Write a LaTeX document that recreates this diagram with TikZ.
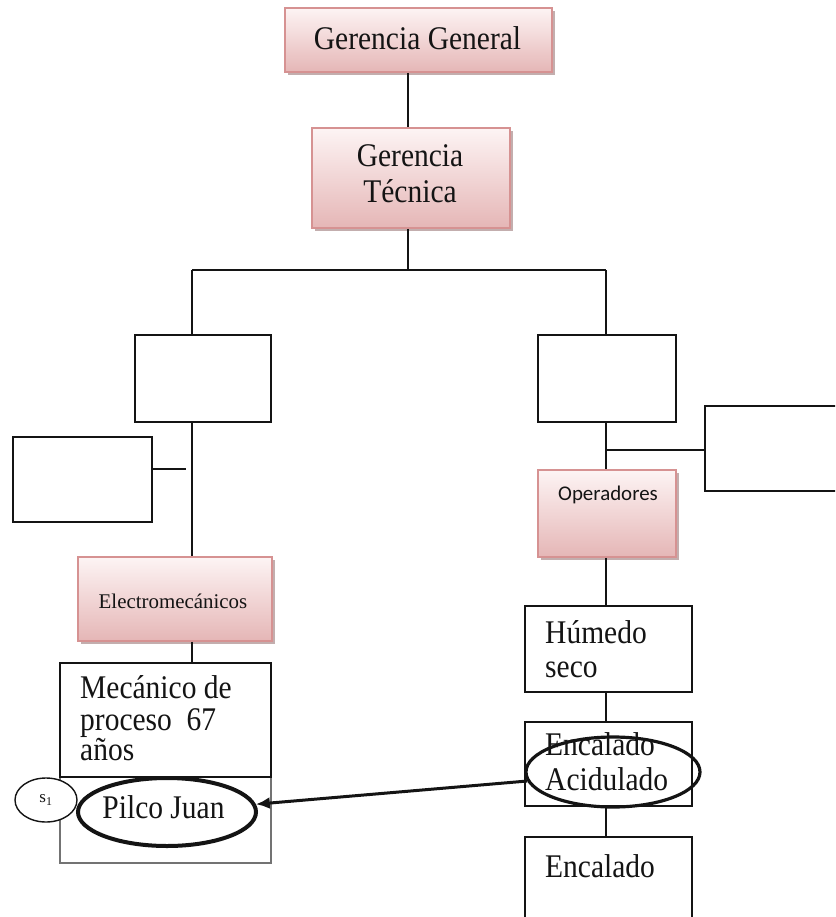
\documentclass[tikz,border=0pt]{standalone}
\usepackage{fontspec}
\setmainfont{Liberation Serif}
\newfontfamily\calib{Carlito}
\usetikzlibrary{shapes.geometric,shadows,arrows.meta}
\definecolor{pinktop}{RGB}{253,244,244}
\definecolor{pinkbot}{RGB}{229,182,182}
\definecolor{pinkline}{RGB}{214,146,146}
\definecolor{pinkshadow}{RGB}{185,160,160}
\definecolor{ink}{RGB}{20,20,20}

% taller serif lettering
\newcommand\tallt[1]{\scalebox{1}[1.12]{#1}}

\tikzset{
  conn/.style={line width=2.4pt, draw=ink},
  plain/.style={rectangle, draw=ink, line width=2.4pt, fill=white, inner sep=0pt},
  pinkbox/.style={rectangle, inner sep=0pt, draw=pinkline, line width=1.6pt,
    top color=pinktop, bottom color=pinkbot,
    drop shadow={shadow xshift=3pt, shadow yshift=-3pt, fill=pinkshadow, opacity=0.85}},
  big/.style={font=\fontsize{29.5}{36}\selectfont, text=ink},
  line/.style={big, anchor=base west, inner sep=0pt},
  cline/.style={big, anchor=base, inner sep=0pt},
  ring/.style={ellipse, draw=ink, inner sep=0pt},
}

\begin{document}
\begin{tikzpicture}[x=1pt, y=-1pt]
\useasboundingbox (0,0) rectangle (835,917);
\clip (0,0) rectangle (835,917);

% top management
\node[pinkbox, minimum width=267pt, minimum height=64pt] (gg) at (418.5,40) {};
\node[cline] (gglbl) at (417.5,50) {\tallt{Gerencia General}};
\node[pinkbox, minimum width=198pt, minimum height=100pt] (gt) at (411,178) {};
\node[cline] (gt1) at (410,167) {\tallt{Gerencia}};
\node[cline] (gt2) at (410,203) {\tallt{Técnica}};

% empty boxes of the second level
\node[plain, minimum width=136pt, minimum height=87pt] (lbox) at (203,378.5) {};
\node[plain, minimum width=138pt, minimum height=87pt] (rbox) at (607,378.5) {};
\node[plain, minimum width=139pt, minimum height=85pt] (sbox) at (82.5,479.5) {};
\node[plain, minimum width=155pt, minimum height=85pt] (side) at (782.5,448.5) {};

% left branch
\node[pinkbox, minimum width=194pt, minimum height=84pt] (electro) at (175,599) {};
\node[inner sep=0pt, anchor=base, text=ink] (electrolbl) at (173,608)
  {\scalebox{1.1}[1.1]{\fontsize{19}{19}\selectfont Electromecánicos}};
\node[rectangle, draw=black!55, line width=1.4pt, fill=white, minimum width=211pt, minimum height=86pt] (low) at (165.5,820) {};
\node[plain, minimum width=211pt, minimum height=114pt] (mec) at (165.5,720) {};
\node[line] (mec1) at (80,698) {\tallt{Mecánico de}};
\node[line] (mec2) at (80,730) {\tallt{proceso~~67}};
\node[line] (mec3) at (80,760) {\tallt{años}};
\node[ring, line width=4pt, fill=white, minimum width=178pt, minimum height=68pt] (pilco) at (167,812) {};
\node[cline] (pilcolbl) at (163.5,818) {\tallt{Pilco Juan}};
\node[ring, line width=1.4pt, fill=white, minimum width=62pt, minimum height=44pt] (s1) at (46,800) {};
\node[inner sep=0pt, font=\fontsize{17}{17}\selectfont, text=ink] (s1lbl) at (46,800) {s$_{\mathrm{1}}$};

% right branch
\node[pinkbox, minimum width=138pt, minimum height=87pt] (oper) at (607,513.5) {};
\node[inner sep=0pt, anchor=base, text=ink] (operlbl) at (608,500)
  {\scalebox{1.1}[1.1]{\calib\fontsize{19}{19}\selectfont Operadores}};
\node[plain, minimum width=167pt, minimum height=86pt] (hum) at (608.5,649) {};
\node[line] (hum1) at (545,643) {\tallt{Húmedo}};
\node[line] (hum2) at (545,677) {\tallt{seco}};
\node[plain, minimum width=167pt, minimum height=84pt] (encac) at (608.5,764) {};
\node[line] (encac1) at (545,755) {\tallt{Encalado}};
\node[line] (encac2) at (545,790) {\tallt{Acidulado}};
\node[ring, line width=3.2pt, minimum width=174pt, minimum height=70pt] (acid) at (613,772) {};
\node[plain, minimum width=167pt, minimum height=103pt] (enc) at (608.5,888.5) {};
\node[line] (enc1) at (545,877) {\tallt{Encalado}};

% connectors
\coordinate (xa) at (408,0);
\coordinate (jc) at (408,270);
\coordinate (jl) at (192,270);
\coordinate (jr) at (606,270);
\coordinate (jside) at (606,450);
\coordinate (stubend) at (186,469);

\draw[conn] (gg.south -| xa) -- (gt.north -| xa);
\draw[conn] (gt.south -| jc) -- (jc);
\draw[conn] (jl) -- (jr);
\draw[conn] (jl) -- (lbox.north -| jl);
\draw[conn] (jr) -- (rbox.north -| jr);
\draw[conn] (lbox.south -| jl) -- (electro.north -| jl);
\draw[conn] (electro.south -| jl) -- (mec.north -| jl);
\draw[conn] (sbox.east |- stubend) -- (stubend);
\draw[conn] (rbox.south -| jr) -- (oper.north -| jr);
\draw[conn] (jside) -- (side.west |- jside);
\draw[conn] (oper.south -| jr) -- (hum.north -| jr);
\draw[conn] (hum.south -| jr) -- (encac.north -| jr);
\draw[conn] (encac.south -| jr) -- (enc.north -| jr);

\draw[line width=3pt, draw=ink, -{Latex[length=14pt, width=12pt]}] (acid.186) -- (pilco.5);
\end{tikzpicture}
\end{document}
